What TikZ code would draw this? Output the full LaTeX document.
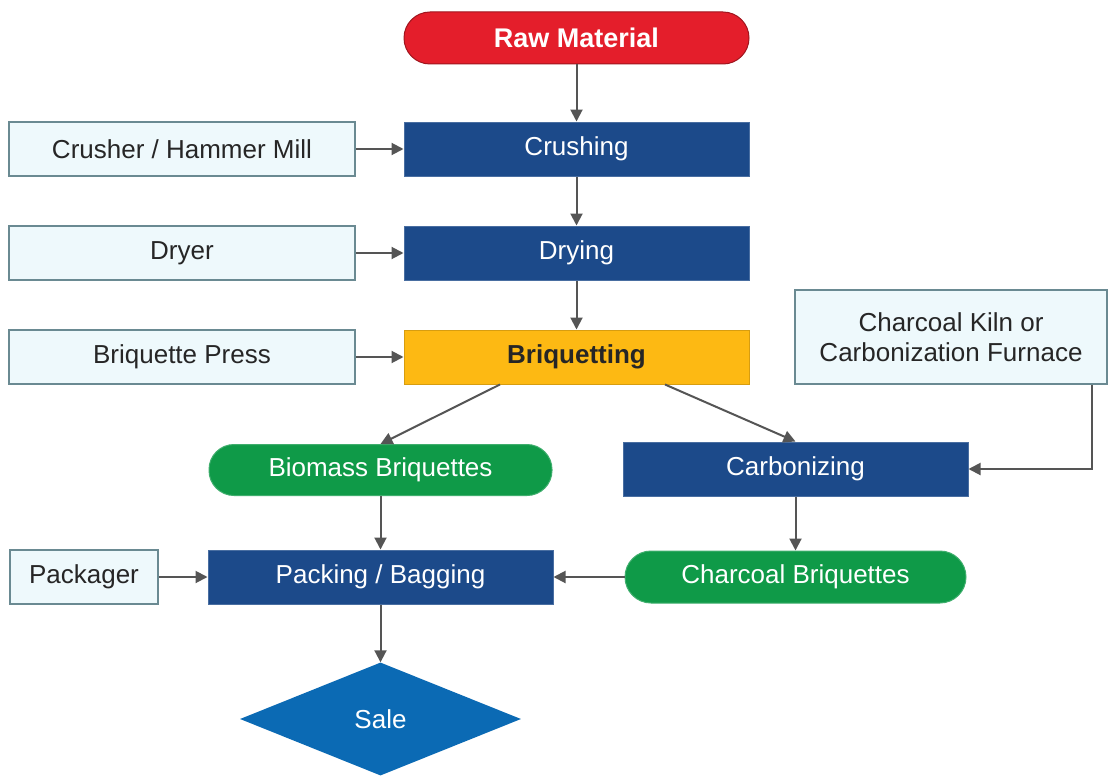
\documentclass[tikz,border=0pt]{standalone}
\usepackage{fontspec}
\setmainfont{Liberation Sans}
\usetikzlibrary{arrows.meta,shapes.geometric}
\definecolor{rawred}{HTML}{E41E2B}
\definecolor{navy}{HTML}{1C4A8A}
\definecolor{orng}{HTML}{FDB913}
\definecolor{grn}{HTML}{0F9A48}
\definecolor{sidefill}{HTML}{EEF9FC}
\definecolor{sideedge}{HTML}{6A8A92}
\definecolor{salebl}{HTML}{0B6AB4}
\definecolor{arr}{HTML}{555555}
\tikzset{
  lbl/.style={font=\fontsize{26}{30}\selectfont, inner sep=0pt, align=center},
  sidebox/.style={lbl, draw=sideedge, fill=sidefill, line width=1.5pt, text=black!85},
  mainbox/.style={lbl, fill=navy, draw=navy!80!white, line width=1pt, text=white, minimum width=345pt, minimum height=54pt},
  pill/.style={lbl, fill=grn, draw=grn!80!white, line width=1pt, text=white, rounded corners=25pt, minimum height=51pt},
  conn/.style={draw=arr, line width=2pt, -{Triangle[length=12pt,width=12pt]}}
}
\begin{document}
\begin{tikzpicture}[x=1pt,y=-1pt]
\useasboundingbox (0,0) rectangle (1108,776);
\fill[white] (0,0) rectangle (1108,776);
% main column
\node[lbl, fill=rawred, draw=rawred!70!black, line width=1pt, text=white, font=\fontsize{27}{30}\selectfont\bfseries, rounded corners=26pt, minimum width=345pt, minimum height=52pt] (raw) at (576.5,38) {Raw Material};
\node[mainbox] (crush) at (576.5,149) {Crushing};
\node[mainbox] (dry) at (576.5,253) {Drying};
\node[lbl, fill=orng, draw=orng!85!black, line width=1pt, text=black!85, font=\fontsize{26}{30}\selectfont\bfseries, minimum width=345pt, minimum height=54pt] (briq) at (576.5,357) {Briquetting};
% side boxes
\node[sidebox, minimum width=346pt, minimum height=54pt] (mill) at (182,149) {Crusher / Hammer Mill};
\node[sidebox, minimum width=346pt, minimum height=54pt] (dryer) at (182,253) {Dryer};
\node[sidebox, minimum width=346pt, minimum height=54pt] (press) at (182,357) {Briquette Press};
\node[sidebox, minimum width=312pt, minimum height=94pt] (kiln) at (951,337) {Charcoal Kiln or\\Carbonization Furnace};
\node[sidebox, minimum width=148pt, minimum height=54pt] (pack) at (84,577) {Packager};
% lower part
\node[pill, minimum width=343pt] (bio) at (380.5,470) {Biomass Briquettes};
\node[mainbox] (carb) at (795.5,469) {Carbonizing};
\node[mainbox] (bag) at (380.5,577) {Packing / Bagging};
\node[pill, minimum width=341pt, minimum height=52pt, rounded corners=26pt] (char) at (795.5,577) {Charcoal Briquettes};
\node[lbl, diamond, fill=salebl, text=white, minimum width=281pt, minimum height=113pt, aspect=2.5] (sale) at (380.5,719) {Sale};
% connectors
\draw[conn] (raw) -- (crush);
\draw[conn] (crush) -- (dry);
\draw[conn] (dry) -- (briq);
\draw[conn] (mill) -- (crush);
\draw[conn] (dryer) -- (dry);
\draw[conn] (press) -- (briq);
\draw[conn] (briq.south -| 500,0) -- (bio.north);
\draw[conn] (briq.south -| 665,0) -- (carb.north);
\draw[conn] (kiln.south -| 1092,0) |- (carb.east);
\draw[conn] (bio) -- (bag);
\draw[conn] (carb) -- (char);
\draw[conn] (char) -- (bag);
\draw[conn] (pack) -- (bag);
\draw[conn] (bag) -- (sale.north);
\end{tikzpicture}
\end{document}
